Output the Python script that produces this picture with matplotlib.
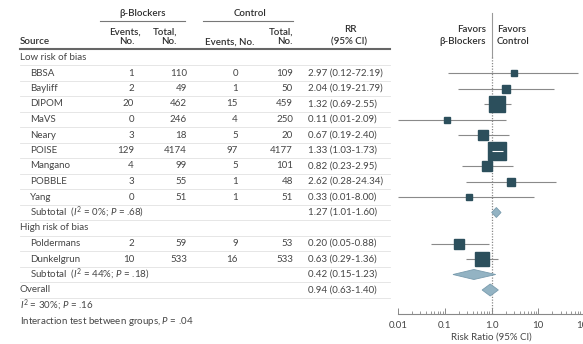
import matplotlib.pyplot as plt
import numpy as np

plt.rcParams['font.family'] = ['Lato', 'DejaVu Sans']
plt.rcParams['mathtext.fontset'] = 'custom'
plt.rcParams['mathtext.rm'] = 'Lato'
plt.rcParams['mathtext.it'] = 'Lato:italic'

# data
studies = ["BBSA", "Bayliff", "DIPOM", "MaVS", "Neary", "POISE", "Mangano",
           "POBBLE", "Yang", "Poldermans", "Dunkelgrun"]
risk_group = ["low"] * 9 + ["high"] * 2
events_bb = [1, 2, 20, 0, 3, 129, 4, 3, 0, 2, 10]
total_bb = [110, 49, 462, 246, 18, 4174, 99, 55, 51, 59, 533]
events_ctl = [0, 1, 15, 4, 5, 97, 5, 1, 1, 9, 16]
total_ctl = [109, 50, 459, 250, 20, 4177, 101, 48, 51, 53, 533]
rr = [2.97, 2.04, 1.32, 0.11, 0.67, 1.33, 0.82, 2.62, 0.33, 0.20, 0.63]
ci_lo = [0.12, 0.19, 0.69, 0.01, 0.19, 1.03, 0.23, 0.28, 0.01, 0.05, 0.29]
ci_hi = [72.19, 21.79, 2.55, 2.09, 2.40, 1.73, 2.95, 24.34, 8.00, 0.88, 1.36]
weights = [1.3, 2.3, 9.1, 1.3, 2.9, 11.5, 3.6, 1.8, 0.9, 2.9, 7.0]

group_names = ["Low risk of bias", "High risk of bias"]
subtotal_rr = [1.27, 0.42]
subtotal_lo = [1.01, 0.15]
subtotal_hi = [1.60, 1.23]
subtotal_i2 = [0, 44]
subtotal_p = [".68", ".18"]
overall_rr = 0.94
overall_lo = 0.63
overall_hi = 1.40
overall_i2 = 30
overall_p = ".16"
interaction_p = ".04"

# layout (pixels)
W, H = 583, 344
Y0, DY = 57.5, 15.5
AX_Y = 314
X_001, X_100 = 398, 585
DEC = (X_100 - X_001) / 4
TXT = '#454545'
HDR = '#2e2e2e'
TEAL = '#2c4f5c'
DIA_FILL = '#93b3c3'
DIA_EDGE = '#7a9cae'
FS = 7

fig = plt.figure(figsize=(W / 100, H / 100), dpi=100)
ax_t = fig.add_axes([0, 0, 1, 1])
ax_t.set_xlim(0, W)
ax_t.set_ylim(H, 0)
ax_t.axis('off')

ax_f = fig.add_axes([X_001 / W, (H - AX_Y) / H, (X_100 - X_001) / W, AX_Y / H])
ax_f.set_xscale('log')
ax_f.set_xlim(0.01, 100)
ax_f.set_ylim(AX_Y, 0)
ax_f.patch.set_visible(False)
for s in ['top', 'left', 'right']:
    ax_f.spines[s].set_visible(False)
ax_f.spines['bottom'].set_color('#888888')
ax_f.spines['bottom'].set_linewidth(0.8)
ax_f.set_yticks([])
ax_f.set_xticks([0.01, 0.1, 1, 10, 100])
ax_f.set_xticklabels(["0.01", "0.1", "1.0", "10", "100"])
ax_f.tick_params(axis='x', which='major', direction='in', length=4, width=0.7,
                 color='#888888', labelsize=FS, labelcolor=TXT, pad=5)
ax_f.tick_params(axis='x', which='minor', direction='in', length=2, width=0.6,
                 color='#888888')
ax_f.set_xlabel("Risk Ratio (95% CI)", fontsize=FS, color=TXT, labelpad=2)

# reference line
ax_f.plot([1, 1], [13, 57], color='#999999', lw=0.8, zorder=1)
ax_f.plot([1, 1], [57, AX_Y], color='#888888', lw=0.9, ls=(0, (1, 1.2)), zorder=1)


def txt(x, y, s, ha='left', color=TXT, weight='normal'):
    ax_t.text(x, y, s, ha=ha, va='center', fontsize=FS, color=color,
              fontweight=weight)


def diamond(y, est, lo, hi, h=10):
    ax_f.fill([lo, est, hi, est], [y, y - h / 2, y, y + h / 2],
              facecolor=DIA_FILL, edgecolor=DIA_EDGE, lw=0.6, zorder=3)


# header
txt(143, 13, "β-Blockers", ha='center', color=HDR, weight='semibold')
txt(250, 13, "Control", ha='center', color=HDR, weight='semibold')
ax_t.plot([100, 185], [21, 21], color='#777777', lw=0.8)
ax_t.plot([203, 293], [21, 21], color='#777777', lw=0.8)
txt(20, 42, "Source", color=HDR, weight='semibold')
txt(125, 32, "Events,", ha='center', color=HDR, weight='semibold')
txt(127, 42, "No.", ha='center', color=HDR, weight='semibold')
txt(177, 32, "Total,", ha='right', color=HDR, weight='semibold')
txt(177, 42, "No.", ha='right', color=HDR, weight='semibold')
txt(230, 42, "Events, No.", ha='center', color=HDR, weight='semibold')
txt(293, 32, "Total,", ha='right', color=HDR, weight='semibold')
txt(293, 42, "No.", ha='right', color=HDR, weight='semibold')
txt(350, 29, "RR", ha='center', color=HDR, weight='semibold')
txt(349, 42, "(95% CI)", ha='center', color=HDR, weight='semibold')
txt(486, 29, "Favors", ha='right', color=HDR, weight='semibold')
txt(486, 42, "β-Blockers", ha='right', color=HDR, weight='semibold')
txt(497, 29, "Favors", color=HDR, weight='semibold')
txt(497, 42, "Control", color=HDR, weight='semibold')
ax_t.plot([20, 390], [49, 49], color='#666666', lw=1.5)

# rows
row = 0
for g, gname in zip(["low", "high"], group_names):
    txt(20, Y0 + row * DY, gname)
    row += 1
    for i in range(len(studies)):
        if risk_group[i] != g:
            continue
        y = Y0 + row * DY
        txt(30, y, studies[i])
        txt(134, y, str(events_bb[i]), ha='right')
        txt(187, y, str(total_bb[i]), ha='right')
        txt(238, y, str(events_ctl[i]), ha='right')
        txt(293, y, str(total_ctl[i]), ha='right')
        txt(308, y, "{:.2f} ({:.2f}-{:.2f})".format(rr[i], ci_lo[i], ci_hi[i]))
        size = 5.3 * np.sqrt(weights[i])
        ax_f.hlines(y, ci_lo[i], ci_hi[i], color='#8a8a8a', lw=0.8, zorder=2)
        ax_f.plot(rr[i], y, marker='s', markersize=size * 0.72, color=TEAL,
                  ls='none', zorder=3)
        if np.log10(ci_hi[i] / ci_lo[i]) * DEC < size:
            ax_f.hlines(y, ci_lo[i], ci_hi[i], color='white', lw=0.8, zorder=4)
        row += 1
    k = group_names.index(gname)
    y = Y0 + row * DY
    txt(30, y, r"Subtotal  ($\it{I}^2$ = " + str(subtotal_i2[k]) + r"%; $\it{P}$ = "
        + subtotal_p[k] + ")")
    txt(308, y, "{:.2f} ({:.2f}-{:.2f})".format(subtotal_rr[k], subtotal_lo[k],
                                                 subtotal_hi[k]))
    diamond(y, subtotal_rr[k], subtotal_lo[k], subtotal_hi[k])
    row += 1

y = Y0 + row * DY
txt(20, y, "Overall")
txt(308, y, "{:.2f} ({:.2f}-{:.2f})".format(overall_rr, overall_lo, overall_hi))
diamond(y, overall_rr, overall_lo, overall_hi, h=12)
row += 1

# separators
for r in range(row):
    ys = Y0 + r * DY + DY / 2
    ax_t.plot([20, 390], [ys, ys], color='#e2e2e2', lw=0.6)

txt(20, Y0 + row * DY, r"$\it{I}^2$ = " + str(overall_i2) + r"%; $\it{P}$ = " + overall_p)
row += 1
txt(20, Y0 + row * DY, r"Interaction test between groups, $\it{P}$ = " + interaction_p)

fig.savefig("out.png", dpi=100)
